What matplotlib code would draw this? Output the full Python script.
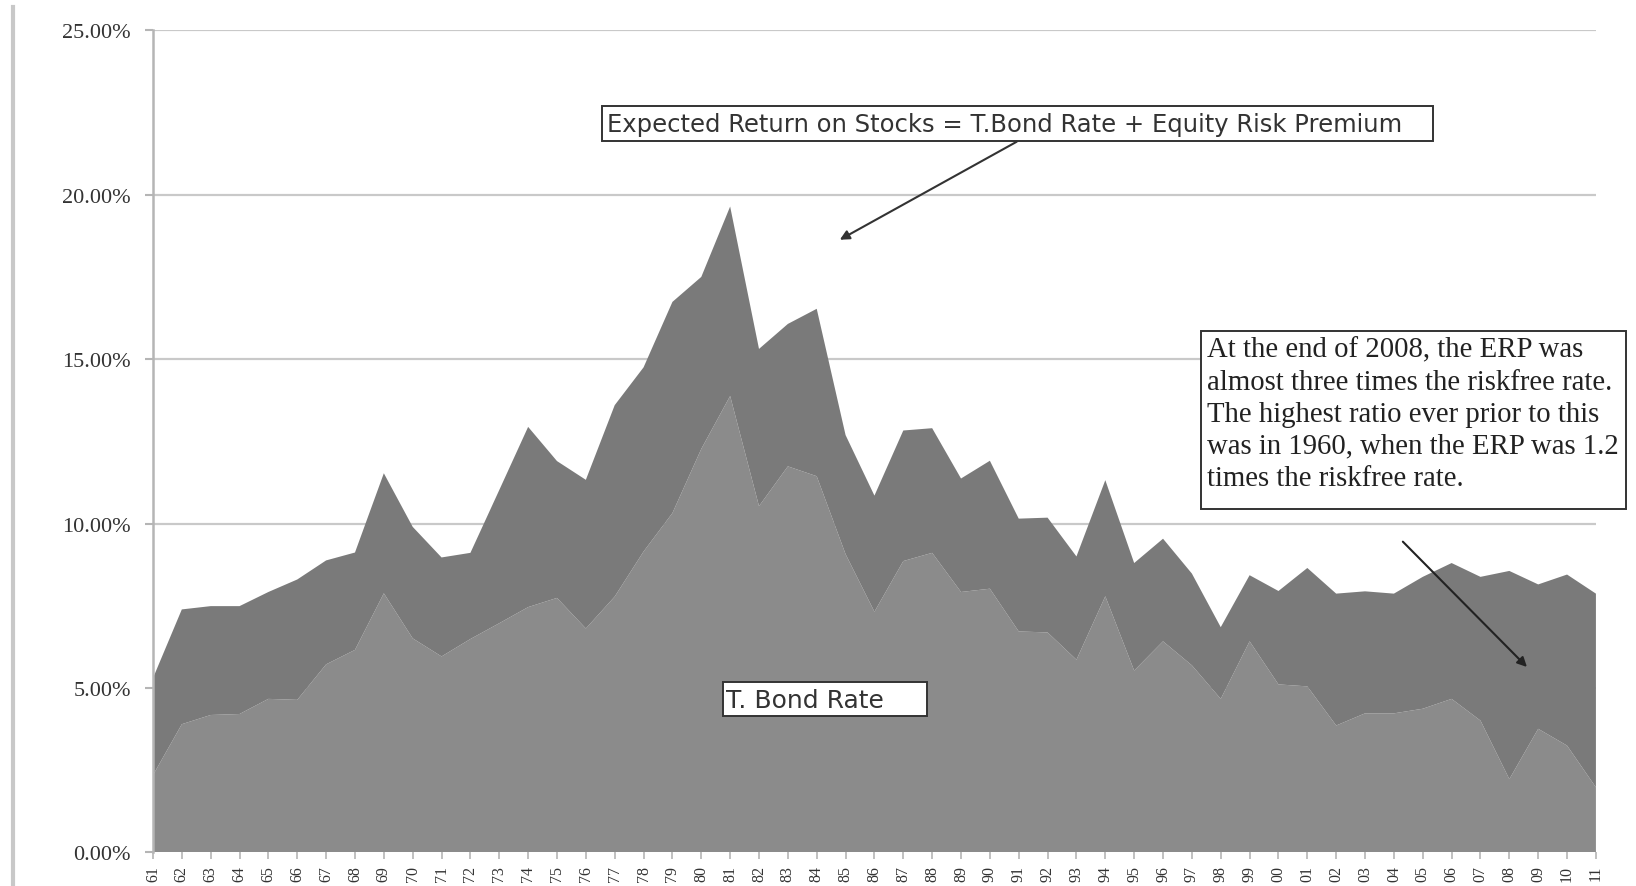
import matplotlib
matplotlib.use("Agg")
import matplotlib.pyplot as plt
import matplotlib.ticker as ticker
from matplotlib.patches import Rectangle
from matplotlib.lines import Line2D

# ----------------------------------------------------------------------------
# Data (percent)
# ----------------------------------------------------------------------------
years = list(range(1961, 2012))
year_labels = [f"{y % 100:02d}" for y in years]

t_bond = [2.35, 3.90, 4.18, 4.21, 4.67, 4.64, 5.72, 6.16, 7.88, 6.51,
          5.96, 6.49, 6.97, 7.46, 7.74, 6.81, 7.78, 9.15, 10.32, 12.27,
          13.88, 10.53, 11.74, 11.44, 9.07, 7.32, 8.86, 9.11, 7.92, 8.02,
          6.72, 6.69, 5.86, 7.79, 5.53, 6.42, 5.69, 4.67, 6.42, 5.11,
          5.05, 3.86, 4.23, 4.23, 4.37, 4.67, 4.01, 2.23, 3.76, 3.25,
          1.98]

expected_return = [5.30, 7.39, 7.49, 7.49, 7.92, 8.30, 8.88, 9.12, 11.53, 9.90,
                   8.97, 9.11, 11.02, 12.94, 11.90, 11.33, 13.60, 14.75, 16.74, 17.50,
                   19.64, 15.31, 16.07, 16.53, 12.69, 10.85, 12.83, 12.90, 11.37, 11.91,
                   10.15, 10.18, 9.00, 11.32, 8.80, 9.54, 8.48, 6.85, 8.43, 7.95,
                   8.65, 7.87, 7.94, 7.87, 8.38, 8.80, 8.38, 8.56, 8.15, 8.45,
                   7.87]

erp = [e - b for e, b in zip(expected_return, t_bond)]

y_ticks = [0, 5, 10, 15, 20, 25]

main_label = "Expected Return on Stocks = T.Bond Rate + Equity Risk Premium"
bond_label = "T. Bond Rate"
note_text = ("At the end of 2008, the ERP was\n"
             "almost three times the riskfree rate.\n"
             "The highest ratio ever prior to this\n"
             "was in 1960, when the ERP was 1.2\n"
             "times the riskfree rate.")

# ----------------------------------------------------------------------------
# Figure
# ----------------------------------------------------------------------------
fig = plt.figure(figsize=(16.36, 8.87), dpi=100)
ax = fig.add_axes([0.0935, 0.0378, 0.882, 0.927])

x = list(range(len(years)))
ax.stackplot(x, t_bond, erp, colors=["#8b8b8b", "#7a7a7a"], zorder=2)

ax.set_xlim(0, len(years) - 1)
ax.set_ylim(0, 25)

# y axis
ax.set_yticks(y_ticks)
ax.yaxis.set_major_formatter(ticker.FuncFormatter(lambda v, p: f"{v:.2f}%"))
ax.grid(axis="y", color="#c9c9c9", linewidth=1.6, zorder=1)
ax.set_axisbelow(True)

# x axis (labels kept small so they stay inside the picture)
ax.set_xticks(x)
ax.set_xticklabels(year_labels, rotation=90, fontfamily="Liberation Serif",
                   fontsize=11.5, color="#333333")
for lab in ax.get_yticklabels():
    lab.set_fontfamily("Liberation Serif")
    lab.set_fontsize(16)
    lab.set_color("#333333")

ax.tick_params(axis="y", length=6, width=1.5, color="#b5b5b5", pad=10)
ax.tick_params(axis="x", length=5, width=1.2, color="#b5b5b5", pad=4)

for side in ["top", "right", "bottom"]:
    ax.spines[side].set_visible(False)
ax.spines["left"].set_color("#b5b5b5")
ax.spines["left"].set_linewidth(1.8)

# ----------------------------------------------------------------------------
# Annotations
# ----------------------------------------------------------------------------
# top formula box
ax.add_patch(Rectangle((15.56, 21.64), 28.79, 1.06, facecolor="white",
                       edgecolor="#333333", linewidth=1.4, zorder=5, clip_on=False))
ax.text(15.73, 22.15, main_label, fontfamily="DejaVu Sans", fontsize=17.5,
        color="#333333", va="center", ha="left", zorder=6)
ax.annotate("", xy=(23.80, 18.63), xytext=(29.93, 21.61),
            arrowprops=dict(arrowstyle="-|>", color="#333333", lw=1.5,
                            mutation_scale=14, shrinkA=0, shrinkB=0), zorder=6)

# bond rate box
ax.add_patch(Rectangle((19.75, 4.15), 7.07, 1.04, facecolor="white",
                       edgecolor="#333333", linewidth=1.4, zorder=5))
ax.text(19.87, 4.64, bond_label, fontfamily="DejaVu Sans", fontsize=18,
        color="#333333", va="center", ha="left", zorder=6)

# note box on the right
ax.add_patch(Rectangle((36.31, 10.45), 14.73, 5.41, facecolor="white",
                       edgecolor="#333333", linewidth=1.4, zorder=5, clip_on=False))
ax.text(36.52, 15.68, note_text, fontfamily="Liberation Serif", fontsize=20.7,
        color="#222222", va="top", ha="left", linespacing=1.3, zorder=6,
        clip_on=False)
ax.annotate("", xy=(47.61, 5.64), xytext=(43.31, 9.45),
            arrowprops=dict(arrowstyle="-|>", color="#222222", lw=1.5,
                            mutation_scale=14, shrinkA=0, shrinkB=0), zorder=6)

# page border on the left
fig.add_artist(Line2D([0.008, 0.008], [0.0, 0.991], color="#c8c8c8",
                      linewidth=3, transform=fig.transFigure))

fig.savefig("out.png", dpi=100)
